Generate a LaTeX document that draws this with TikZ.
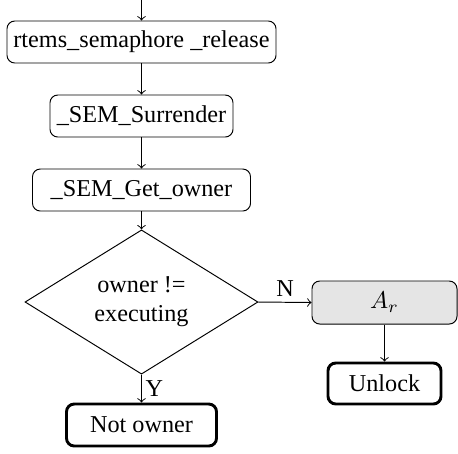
\documentclass[tikz,border=0pt]{standalone}
\usepackage{fontspec}
\setmainfont{Liberation Serif}
\usetikzlibrary{shapes.geometric}
\begin{document}
\begin{tikzpicture}[x=0.413pt,y=-0.413pt,
  every node/.style={font=\fontsize{10}{12}\selectfont},
  proc/.style={draw, rounded corners=3.2pt, line width=0.4pt, inner sep=0pt},
  term/.style={draw, rounded corners=3.2pt, line width=1.2pt, inner sep=0pt},
  dec/.style={draw, diamond, line width=0.4pt, inner sep=0pt, align=center},
  conn/.style={->, line width=0.4pt}]
\useasboundingbox (0,0) rectangle (458,453);
\coordinate (top) at (141.5,0);
\node[proc, minimum width=269*0.413pt, minimum height=42*0.413pt] (b1) at (141.5,42) {rtems\_semaphore \_release};
\node[proc, minimum width=183*0.413pt, minimum height=42*0.413pt] (b2) at (141.5,116) {\_SEM\_Surrender};
\node[proc, minimum width=218*0.413pt, minimum height=42*0.413pt] (b3) at (141.5,190) {\_SEM\_Get\_owner};
\node[dec, minimum width=233*0.413pt, minimum height=137*0.413pt] (d) at (141.5,302) {owner !=\\executing};
\node[proc, fill=black!10, minimum width=145*0.413pt, minimum height=43*0.413pt] (ar) at (384.5,302.5) {$A_r$};
\node[term, minimum width=113*0.413pt, minimum height=41*0.413pt] (ul) at (384.5,383.5) {Unlock};
\node[term, minimum width=150*0.413pt, minimum height=42*0.413pt] (no) at (141.5,425) {Not owner};
\draw[conn] (top) -- (b1);
\draw[conn] (b1) -- (b2);
\draw[conn] (b2) -- (b3);
\draw[conn] (b3) -- (d);
\draw[conn] (d.east) -- node[above, inner sep=2pt] {N} (ar.west);
\draw[conn] (ar) -- (ul);
\draw[conn] (d.south) -- node[right, inner sep=1.5pt] {Y} (no.north);
\end{tikzpicture}
\end{document}
